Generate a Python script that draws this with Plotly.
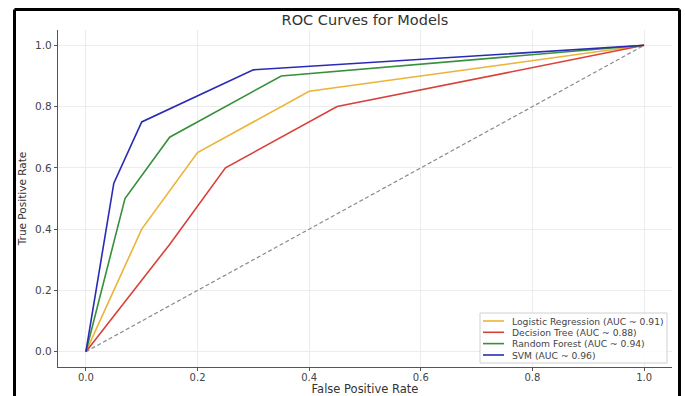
import plotly.graph_objects as go

title = "ROC Curves for Models"
x_title = "False Positive Rate"
y_title = "True Positive Rate"
models = ["Logistic Regression (AUC ~ 0.91)", "Decision Tree (AUC ~ 0.88)",
          "Random Forest (AUC ~ 0.94)", "SVM (AUC ~ 0.96)"]
fpr_lr = [0.0, 0.1, 0.2, 0.4, 1.0]
tpr_lr = [0.0, 0.4, 0.65, 0.85, 1.0]
fpr_dt = [0.0, 0.15, 0.25, 0.45, 1.0]
tpr_dt = [0.0, 0.35, 0.6, 0.8, 1.0]
fpr_rf = [0.0, 0.07, 0.15, 0.35, 1.0]
tpr_rf = [0.0, 0.5, 0.7, 0.9, 1.0]
fpr_svm = [0.0, 0.05, 0.1, 0.3, 1.0]
tpr_svm = [0.0, 0.55, 0.75, 0.92, 1.0]
diag = [0.0, 1.0]
tick_vals = [0.0, 0.2, 0.4, 0.6, 0.8, 1.0]
colors = ["#ecb338", "#d8413a", "#37903a", "#2a2ab6"]

W, H = 685, 396
L, R, T, B = 58, 13, 30, 29
pw, ph = W - L - R, H - T - B


def px(x):
    return (x - L) / pw


def py(y):
    return (H - B - y) / ph


fig = go.Figure()
fig.add_trace(go.Scatter(x=diag, y=diag, mode="lines", showlegend=False,
                         line=dict(color="#8a8a8a", width=1.2, dash="4px,2.5px")))
for name, xs, ys, c in zip(models, [fpr_lr, fpr_dt, fpr_rf, fpr_svm],
                           [tpr_lr, tpr_dt, tpr_rf, tpr_svm], colors):
    fig.add_trace(go.Scatter(x=xs, y=ys, mode="lines", name=name, showlegend=False,
                             line=dict(color=c, width=1.6)))

axis_common = dict(range=[-0.05, 1.05], tickvals=tick_vals, tickformat=".1f",
                   showgrid=True, gridcolor="#ececec", gridwidth=1,
                   zeroline=False, showline=True, linecolor="#555555", linewidth=1.2,
                   ticks="outside", ticklen=3, tickcolor="#555555", automargin=False)

# compact matplotlib-like legend
shapes = [dict(type="rect", xref="paper", yref="paper",
               x0=px(480), x1=px(667), y0=py(363), y1=py(313),
               line=dict(color="#d0d0d0", width=1), fillcolor="rgba(255,255,255,0.85)",
               layer="above")]
annotations = []
row_y = [321, 332.3, 343.6, 355]
for name, c, ry in zip(models, colors, row_y):
    shapes.append(dict(type="line", xref="paper", yref="paper",
                       x0=px(483), x1=px(504), y0=py(ry), y1=py(ry),
                       line=dict(color=c, width=1.6), layer="above"))
    annotations.append(dict(text=name, xref="paper", yref="paper", x=px(510), y=py(ry),
                            xanchor="left", yanchor="middle", showarrow=False,
                            font=dict(size=9.2, color="#444444")))

# outer black frame
fx0, fx1, fy0, fy1 = 14.5, 679.5, 9.5, 396
for (a, b, c2, d) in [(fx0, fy0, fx1, fy0), (fx0, fy0, fx0, fy1), (fx1, fy0, fx1, fy1)]:
    shapes.append(dict(type="line", xref="paper", yref="paper",
                       x0=px(a), y0=py(b), x1=px(c2), y1=py(d),
                       line=dict(color="black", width=3), layer="above"))

fig.update_layout(
    width=W, height=H,
    margin=dict(l=L, r=R, t=T, b=B),
    paper_bgcolor="white", plot_bgcolor="white",
    font=dict(family="DejaVu Sans", color="#333333"),
    title=dict(text=title, x=365 / W, xanchor="center", y=1 - 20 / H, yanchor="middle",
               font=dict(size=14.5, color="#333333")),
    xaxis=dict(axis_common, ticklabelstandoff=-2,
               tickfont=dict(size=10, color="#444444"),
               title=dict(text=x_title, font=dict(size=11.5, color="#333333"), standoff=2)),
    yaxis=dict(axis_common,
               tickfont=dict(size=10.5, color="#444444"),
               title=dict(text=y_title, font=dict(size=10.5, color="#333333"), standoff=6)),
    showlegend=False,
    shapes=shapes,
    annotations=annotations,
)

fig.write_html("out.html", config={"displayModeBar": False},
               post_script="document.body.style.margin='0';document.body.style.overflow='hidden';")
